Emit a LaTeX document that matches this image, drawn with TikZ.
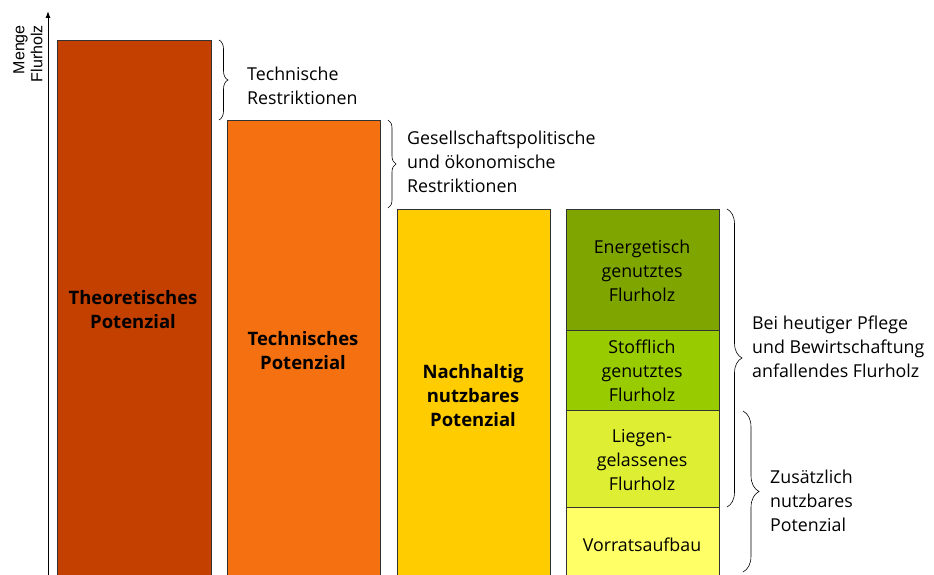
\documentclass[tikz,border=0pt]{standalone}
\usepackage{fontspec}
\setmainfont{Open Sans}
\newfontfamily\axisfont{Liberation Sans}
\usetikzlibrary{decorations.pathreplacing,arrows.meta}
\definecolor{cTheo}{RGB}{196,64,0}
\definecolor{cTech}{RGB}{244,112,16}
\definecolor{cNach}{RGB}{255,204,0}
\definecolor{cG1}{RGB}{127,166,0}
\definecolor{cG2}{RGB}{153,204,0}
\definecolor{cG3}{RGB}{221,238,51}
\definecolor{cG4}{RGB}{255,255,102}
\tikzset{
  bar/.style={draw=black!80, line width=0.8pt, anchor=north west, inner sep=0pt},
  barlabel/.style={font=\fontsize{18.5}{24}\selectfont\bfseries, align=center, inner sep=0pt},
  seglabel/.style={font=\fontsize{17.8}{24}\selectfont, align=center, inner sep=0pt},
  sidelabel/.style={font=\fontsize{17.8}{24}\selectfont, align=left, anchor=west, inner sep=0pt},
  bracestyle/.style={draw=black, line width=0.6pt, decorate, decoration={brace, amplitude=#1}},
}
\begin{document}
\begin{tikzpicture}[x=1pt,y=-1pt]
\useasboundingbox (0,0) rectangle (934,575);
% axis
\coordinate (ax0) at (48,576);
\coordinate (ax1) at (48,11);
\draw[line width=1pt, -{Latex[length=7pt,width=5pt]}] (ax0) -- (ax1);
\node[rotate=90, anchor=east, align=right, font=\axisfont\fontsize{16}{18}\selectfont, inner sep=0pt] (axlab) at (28,25) {Menge\\Flurholz};
% bars
\node[bar, fill=cTheo, minimum width=154, minimum height=540] (b1) at (57,40) {};
\node[bar, fill=cTech, minimum width=153, minimum height=460] (b2) at (227,120) {};
\node[bar, fill=cNach, minimum width=153, minimum height=371] (b3) at (397,209) {};
\node[bar, fill=cG1, minimum width=153, minimum height=121] (g1) at (566,209) {};
\node[bar, fill=cG2, minimum width=153, minimum height=80] (g2) at (566,330) {};
\node[bar, fill=cG3, minimum width=153, minimum height=97] (g3) at (566,410) {};
\node[bar, fill=cG4, minimum width=153, minimum height=73] (g4) at (566,507) {};
% bar labels
\node[barlabel] (l1) at (133,310) {Theoretisches\\Potenzial};
\node[barlabel] (l2) at (303,351) {Technisches\\Potenzial};
\node[barlabel] (l3) at (473,396) {Nachhaltig\\nutzbares\\Potenzial};
\node[seglabel] (t1) at (642,271) {Energetisch\\genutztes\\Flurholz};
\node[seglabel] (t2) at (642,371) {Stofflich\\genutztes\\Flurholz};
\node[seglabel] (t3) at (642,460) {Liegen-\\gelassenes\\Flurholz};
\node[seglabel] (t4) at (642,545) {Vorratsaufbau};
% braces
\coordinate (br1a) at (219,40);  \coordinate (br1b) at (219,120);
\coordinate (br2a) at (388,120); \coordinate (br2b) at (388,208);
\coordinate (br3a) at (727,209); \coordinate (br3b) at (727,507);
\coordinate (br4a) at (743,411); \coordinate (br4b) at (743,572);
\draw[bracestyle=9] (br1a) -- (br1b);
\draw[bracestyle=8] (br2a) -- (br2b);
\draw[bracestyle=15] (br3a) -- (br3b);
\draw[bracestyle=16] (br4a) -- (br4b);
% side labels
\node[sidelabel] (s1) at (247,86) {Technische\\Restriktionen};
\node[sidelabel] (s2) at (407,162) {Gesellschaftspolitische\\und ökonomische\\Restriktionen};
\node[sidelabel] (s3) at (752,347) {Bei heutiger Pflege\\und Bewirtschaftung\\anfallendes Flurholz};
\node[sidelabel] (s4) at (770,501) {Zusätzlich\\nutzbares\\Potenzial};
\end{tikzpicture}
\end{document}
